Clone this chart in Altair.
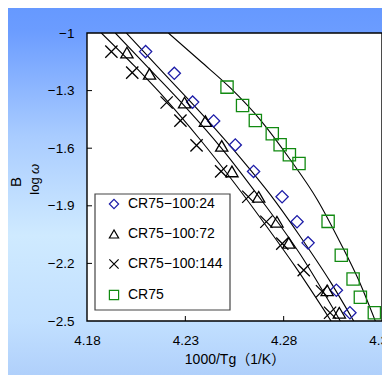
import altair as alt
import pandas as pd

# ---------------- data ----------------
series = ["CR75−100:24", "CR75−100:72", "CR75−100:144", "CR75"]

d24_x = [4.2098, 4.2244, 4.2337, 4.2444, 4.2554, 4.2647, 4.2792, 4.2868, 4.2924, 4.3068, 4.3137]
d24_y = [-1.097, -1.210, -1.360, -1.458, -1.583, -1.721, -1.853, -1.983, -2.093, -2.340, -2.457]

d72_x = [4.2003, 4.2118, 4.2296, 4.2402, 4.2485, 4.2537, 4.2673, 4.2766, 4.2826, 4.3021, 4.3083]
d72_y = [-1.102, -1.213, -1.362, -1.459, -1.588, -1.721, -1.853, -1.983, -2.093, -2.340, -2.457]

d144_x = [4.1924, 4.2030, 4.2205, 4.2275, 4.2357, 4.2482, 4.2620, 4.2712, 4.2793, 4.2902, 4.2995, 4.3036]
d144_y = [-1.097, -1.206, -1.362, -1.456, -1.585, -1.721, -1.853, -1.983, -2.097, -2.235, -2.345, -2.457]

cr75_x = [4.2512, 4.2591, 4.2656, 4.2742, 4.2782, 4.2829, 4.2878, 4.3026, 4.3093, 4.3153, 4.3190, 4.3261]
cr75_y = [-1.282, -1.378, -1.456, -1.525, -1.582, -1.634, -1.680, -1.981, -2.158, -2.281, -2.376, -2.457]

# fitted curves
fit144_x = [4.1873, 4.2046, 4.2203, 4.2376, 4.2529, 4.2681, 4.2859, 4.3041]
fit144_y = [-1.0, -1.177, -1.348, -1.556, -1.754, -1.962, -2.217, -2.5]
fit72_x = [4.1944, 4.2122, 4.2300, 4.2478, 4.2666, 4.2885, 4.3088]
fit72_y = [-1.0, -1.192, -1.385, -1.593, -1.842, -2.154, -2.5]
fit24_x = [4.2000, 4.2198, 4.2402, 4.2580, 4.2732, 4.2885, 4.3037, 4.3156]
fit24_y = [-1.0, -1.218, -1.442, -1.650, -1.842, -2.061, -2.295, -2.5]
fitcr_x = [4.2214, 4.2376, 4.2529, 4.2681, 4.2834, 4.2971, 4.3088, 4.3180, 4.3266]
fitcr_y = [-1.0, -1.146, -1.286, -1.452, -1.660, -1.868, -2.092, -2.284, -2.5]

x_ticks = [4.18, 4.23, 4.28, 4.33]
y_ticks = [-1.0, -1.3, -1.6, -1.9, -2.2, -2.5]
x_title = "1000/Tg（1/K）"

# ---------------- tables ----------------
rows = []
for name, xs, ys in zip(series, [d24_x, d72_x, d144_x, cr75_x], [d24_y, d72_y, d144_y, cr75_y]):
    for x, y in zip(xs, ys):
        rows.append({"series": name, "x": x, "y": y})
pts = pd.DataFrame(rows)

frows = []
for name, xs, ys in zip(series, [fit24_x, fit72_x, fit144_x, fitcr_x], [fit24_y, fit72_y, fit144_y, fitcr_y]):
    for i, (x, y) in enumerate(zip(xs, ys)):
        frows.append({"curve": name, "i": i, "x": x, "y": y})
fits = pd.DataFrame(frows)

xt = pd.DataFrame({"x": x_ticks[1:-1]})
yt = pd.DataFrame({"y": y_ticks[1:-1]})
one = pd.DataFrame({"a": [0]})

# ---------------- layout ----------------
W, H = 295, 288
PL, PT, PR, PB = 79, 25, 0, 54
FONT = "Liberation Sans, Noto Sans CJK JP"

xscale = alt.Scale(domain=[4.18, 4.33], nice=False, zero=False)
yscale = alt.Scale(domain=[-2.5, -1.0], nice=False, zero=False)

xaxis = alt.Axis(values=x_ticks, format=".2f", grid=False, domain=False, ticks=False,
                 labelPadding=12, labelFlush=False, labelOverlap=False,
                 labelFont=FONT, labelFontSize=13.5, labelColor="#000",
                 title=x_title, titleFont=FONT, titleFontSize=14, titleFontWeight="normal",
                 titleColor="#000", titlePadding=6, zindex=1)
yaxis = alt.Axis(values=y_ticks, grid=False, domain=False, ticks=False,
                 labelExpr="datum.value < 0 ? '−' + format(-datum.value, '~g') : format(datum.value, '~g')",
                 labelPadding=13, labelFont=FONT, labelFontSize=13.5, labelColor="#000",
                 title=None, zindex=1)

xenc = alt.X("x:Q", scale=xscale, axis=xaxis)
yenc = alt.Y("y:Q", scale=yscale, axis=yaxis)

grad = alt.LinearGradient(
    gradient="linear", x1=0, y1=0, x2=0, y2=1,
    stops=[alt.GradientStop(color="#6699ff", offset=0.0),
           alt.GradientStop(color="#6b9cff", offset=0.06),
           alt.GradientStop(color="#a9ccff", offset=0.35),
           alt.GradientStop(color="#cfeaff", offset=0.62),
           alt.GradientStop(color="#c2e0ff", offset=0.85),
           alt.GradientStop(color="#b0d0fb", offset=1.0)])

bg = alt.Chart(one).mark_rect(fill=grad, clip=False).encode(
    x=alt.value(-PL), x2=alt.value(W + PR), y=alt.value(-PT), y2=alt.value(H + PB))

plotbox = alt.Chart(one).mark_rect(fill="white", stroke="#000", strokeWidth=1.4).encode(
    x=alt.value(0), x2=alt.value(W), y=alt.value(0), y2=alt.value(H))

xtick = alt.Chart(xt).mark_rule(color="#000", strokeWidth=1).encode(
    x=xenc, y=alt.value(H), y2=alt.value(H - 5))
ytick = alt.Chart(yt).mark_rule(color="#000", strokeWidth=1).encode(
    y=yenc, x=alt.value(0), x2=alt.value(5))

lines = alt.Chart(fits).mark_line(color="#000", strokeWidth=1.1, interpolate="monotone", clip=True).encode(
    x=xenc, y=yenc, detail="curve:N", order="i:Q")

shape_scale = alt.Scale(domain=series,
                        range=["diamond", "triangle-up", "M-1,-1L1,1M-1,1L1,-1", "square"])
color_scale = alt.Scale(domain=series, range=["#1c1ca8", "#000000", "#000000", "#118a11"])

legend = alt.Legend(orient="none", legendX=20, legendY=164, direction="vertical", title=None,
                    padding=0, symbolSize=85, symbolStrokeWidth=1.2, symbolFillColor="transparent",
                    labelFont=FONT, labelFontSize=14, labelColor="#000", labelOffset=7,
                    rowPadding=15, symbolOffset=0)

points = alt.Chart(pts).mark_point(filled=False, size=150, strokeWidth=1.3, opacity=1).encode(
    x=xenc, y=yenc,
    shape=alt.Shape("series:N", scale=shape_scale, legend=legend),
    color=alt.Color("series:N", scale=color_scale, legend=legend))

legbox = alt.Chart(one).mark_rect(fill="white", stroke="#444", strokeWidth=1.2).encode(
    x=alt.value(8), x2=alt.value(143), y=alt.value(161), y2=alt.value(277))

ttl_b = alt.Chart(one).mark_text(text="B", angle=270, font=FONT, fontSize=15, color="#000",
                                 align="center", baseline="middle").encode(
    x=alt.value(-71), y=alt.value(149))
ttl_log = alt.Chart(one).mark_text(text="log", angle=270, font=FONT, fontSize=13, color="#000",
                                   align="center", baseline="middle").encode(
    x=alt.value(-52), y=alt.value(153))
ttl_w = alt.Chart(one).mark_text(text="ω", angle=270, font=FONT, fontSize=13, fontStyle="italic",
                                 color="#000", align="center", baseline="middle").encode(
    x=alt.value(-52), y=alt.value(136))

chart = alt.layer(bg, plotbox, xtick, ytick, lines, legbox, points, ttl_b, ttl_log, ttl_w).properties(
    width=W, height=H,
    autosize=alt.AutoSizeParams(type="none"),
    padding={"left": PL, "top": PT, "right": PR, "bottom": PB},
).configure_view(stroke=None).configure(background="#ffffff")

chart.save("out.html", embed_options={"renderer": "svg", "actions": False})
